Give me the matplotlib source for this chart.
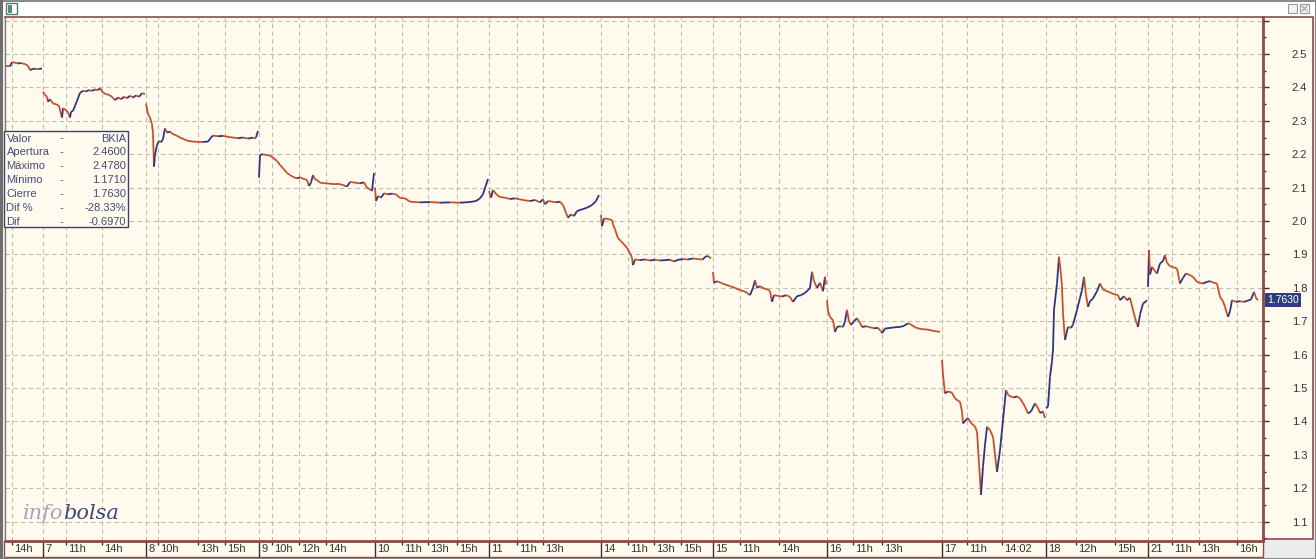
import matplotlib
matplotlib.use('Agg')
import matplotlib.pyplot as plt
import numpy as np
from matplotlib.collections import LineCollection
from matplotlib.patches import Rectangle
import matplotlib.transforms as mtransforms

W, H, DPI = 1316, 559, 100

# ---------------- data ----------------
day_labels = ['6', '7', '8', '9', '10', '11', '14', '15', '16', '17', '18', '21']
day_bars = [38, 103, 113, 116, 114, 112, 112, 114, 115, 104, 102, 115]

hour_day = [0, 1, 1, 2, 2, 2, 3, 3, 3, 4, 4, 4, 5, 5, 6, 6, 6, 7, 7, 8, 8, 9, 9, 10, 10, 11, 11, 11]
hour_off = [7, 23, 59, 12, 52, 79, 13, 40, 67, 27, 53, 82, 28, 54, 27, 53, 80, 27, 66, 26, 55, 25, 60, 30, 69, 24, 51, 89]
hour_lab = ['14h', '11h', '14h', '10h', '13h', '15h', '10h', '12h', '14h', '11h', '13h', '15h', '11h', '13h',
            '11h', '13h', '15h', '11h', '14h', '11h', '13h', '11h', '14:02', '12h', '15h', '11h', '13h', '16h']

d06_t = [0, 5, 7, 10, 13, 16, 20, 23, 25, 27, 30, 34, 37]
d06_p = [2.463, 2.463, 2.476, 2.474, 2.472, 2.473, 2.470, 2.465, 2.452, 2.455, 2.456, 2.455, 2.457]

d07_t = [0, 2, 4, 5, 7, 10, 13, 16, 19, 20, 23, 25, 27, 28, 30, 32, 34, 37, 40, 43,
         46, 49, 52, 55, 57, 60, 63, 66, 69, 72, 75, 78, 81, 84, 87, 90, 93, 96, 99, 102]
d07_p = [2.387, 2.378, 2.372, 2.357, 2.365, 2.352, 2.350, 2.345, 2.310, 2.338, 2.332, 2.325, 2.310, 2.327,
         2.330, 2.345, 2.360, 2.384, 2.390, 2.388, 2.392, 2.390, 2.394, 2.392, 2.398, 2.385, 2.380, 2.378,
         2.372, 2.362, 2.370, 2.365, 2.372, 2.368, 2.375, 2.370, 2.376, 2.372, 2.383, 2.380]

d08_t = [0, 2, 4, 6, 7, 8, 9, 11, 13, 15, 17, 19, 21, 24, 27, 30, 34, 38, 42, 47,
         52, 57, 62, 65, 67, 72, 77, 82, 87, 92, 97, 102, 107, 110, 112]
d08_p = [2.352, 2.320, 2.310, 2.290, 2.262, 2.163, 2.200, 2.227, 2.240, 2.236, 2.245, 2.278, 2.265, 2.268,
         2.260, 2.257, 2.250, 2.245, 2.240, 2.238, 2.237, 2.237, 2.238, 2.250, 2.256, 2.254, 2.255, 2.252,
         2.250, 2.248, 2.250, 2.247, 2.250, 2.250, 2.270]

d09_t = [0, 1, 4, 7, 11, 14, 18, 21, 25, 28, 31, 34, 38, 41, 44, 48, 50, 52, 54, 56,
         58, 61, 66, 71, 76, 81, 84, 88, 91, 96, 101, 105, 108, 111, 113, 115]
d09_p = [2.130, 2.198, 2.200, 2.198, 2.196, 2.190, 2.180, 2.168, 2.155, 2.144, 2.138, 2.132, 2.128, 2.131,
         2.127, 2.123, 2.105, 2.115, 2.138, 2.125, 2.123, 2.115, 2.113, 2.112, 2.110, 2.110, 2.108, 2.103,
         2.117, 2.115, 2.113, 2.116, 2.100, 2.095, 2.090, 2.144]

d10_t = [0, 1, 3, 6, 9, 13, 17, 21, 25, 30, 35, 45, 55, 65, 75, 85, 95, 101, 105, 108, 110, 113]
d10_p = [2.100, 2.060, 2.075, 2.070, 2.083, 2.080, 2.082, 2.080, 2.069, 2.068, 2.058, 2.056, 2.057, 2.055,
         2.056, 2.055, 2.057, 2.060, 2.068, 2.080, 2.099, 2.126]

d11_t = [0, 2, 4, 8, 11, 16, 21, 26, 31, 36, 41, 46, 51, 54, 56, 59, 63, 67, 71, 74,
         77, 79, 82, 85, 88, 93, 98, 103, 107, 110]
d11_p = [2.090, 2.070, 2.093, 2.078, 2.072, 2.070, 2.066, 2.068, 2.065, 2.062, 2.060, 2.063, 2.056, 2.065,
         2.050, 2.060, 2.058, 2.056, 2.058, 2.048, 2.025, 2.010, 2.020, 2.015, 2.030, 2.035, 2.040, 2.048,
         2.060, 2.078]

d14_t = [0, 1, 3, 7, 11, 12, 14, 17, 20, 23, 26, 29, 31, 32, 34, 39, 44, 49, 54, 59,
         64, 69, 73, 77, 82, 87, 92, 97, 102, 104, 107, 110]
d14_p = [2.018, 1.985, 2.008, 2.006, 2.003, 1.990, 1.975, 1.949, 1.940, 1.930, 1.920, 1.904, 1.890, 1.868,
         1.885, 1.883, 1.885, 1.882, 1.884, 1.882, 1.883, 1.884, 1.879, 1.884, 1.886, 1.885, 1.888, 1.886,
         1.885, 1.893, 1.895, 1.888]

d15_t = [0, 1, 4, 8, 12, 17, 22, 27, 31, 34, 37, 40, 42, 44, 47, 51, 55, 57, 59, 61,
         65, 69, 73, 77, 80, 84, 88, 92, 95, 97, 99, 101, 104, 107, 110, 112, 113]
d15_p = [1.848, 1.815, 1.820, 1.815, 1.810, 1.805, 1.800, 1.793, 1.790, 1.785, 1.778, 1.800, 1.823, 1.800,
         1.805, 1.798, 1.795, 1.790, 1.758, 1.778, 1.776, 1.774, 1.778, 1.773, 1.758, 1.775, 1.778, 1.785,
         1.793, 1.800, 1.848, 1.820, 1.800, 1.815, 1.790, 1.833, 1.810]

d16_t = [0, 1, 3, 6, 8, 10, 13, 16, 18, 20, 22, 24, 27, 30, 33, 35, 39, 43, 47, 51,
         54, 55, 58, 63, 68, 73, 77, 81, 84, 88, 92, 96, 101, 105, 109, 113]
d16_p = [1.763, 1.730, 1.713, 1.703, 1.668, 1.683, 1.685, 1.683, 1.700, 1.734, 1.700, 1.689, 1.700, 1.709,
         1.695, 1.683, 1.685, 1.682, 1.679, 1.680, 1.670, 1.664, 1.678, 1.680, 1.682, 1.683, 1.686, 1.694,
         1.690, 1.682, 1.678, 1.676, 1.675, 1.672, 1.670, 1.668]

d17_t = [0, 1, 3, 6, 10, 13, 16, 18, 20, 21, 24, 26, 29, 31, 33, 35, 37, 39, 41, 43,
         45, 48, 51, 53, 55, 58, 61, 64, 66, 69, 72, 75, 78, 81, 83, 86, 89, 93, 96, 98, 101, 103]
d17_p = [1.584, 1.539, 1.484, 1.490, 1.486, 1.469, 1.462, 1.459, 1.430, 1.394, 1.405, 1.410, 1.395, 1.390,
         1.385, 1.369, 1.275, 1.180, 1.265, 1.330, 1.384, 1.374, 1.354, 1.300, 1.249, 1.314, 1.404, 1.494,
         1.480, 1.474, 1.472, 1.475, 1.469, 1.455, 1.444, 1.424, 1.430, 1.454, 1.440, 1.425, 1.430, 1.410]

d18_t = [0, 2, 4, 6, 7, 8, 11, 13, 15, 16, 17, 19, 22, 25, 27, 31, 34, 36, 38, 40,
         42, 44, 47, 51, 54, 57, 61, 65, 69, 72, 74, 78, 81, 84, 87, 90, 92, 94, 97, 100, 101]
d18_p = [1.440, 1.444, 1.534, 1.580, 1.614, 1.734, 1.813, 1.893, 1.840, 1.803, 1.724, 1.644, 1.683, 1.680,
         1.690, 1.734, 1.770, 1.793, 1.833, 1.780, 1.743, 1.760, 1.768, 1.790, 1.813, 1.795, 1.790, 1.785,
         1.780, 1.778, 1.763, 1.775, 1.763, 1.770, 1.734, 1.700, 1.683, 1.720, 1.753, 1.760, 1.763]

d21_t = [0, 1, 2, 4, 7, 9, 12, 15, 17, 19, 22, 25, 29, 32, 35, 38, 42, 45, 49, 52,
         55, 59, 62, 66, 69, 72, 75, 77, 80, 82, 84, 88, 92, 96, 100, 103, 106, 108, 110]
d21_p = [1.803, 1.913, 1.840, 1.863, 1.850, 1.843, 1.873, 1.880, 1.898, 1.875, 1.865, 1.862, 1.858, 1.813,
         1.830, 1.843, 1.838, 1.833, 1.818, 1.815, 1.813, 1.818, 1.820, 1.815, 1.813, 1.773, 1.760, 1.743,
         1.713, 1.730, 1.763, 1.758, 1.760, 1.758, 1.762, 1.765, 1.788, 1.770, 1.763]

info_labels = ['Valor', 'Apertura', 'Máximo', 'Mínimo', 'Cierre', 'Dif %', 'Dif']
info_values = ['BKIA', '2.4600', '2.4780', '1.1710', '1.7630', '-28.33%', '-0.6970']
last_price = 1.7630

y_major = [1.1, 1.2, 1.3, 1.4, 1.5, 1.6, 1.7, 1.8, 1.9, 2.0, 2.1, 2.2, 2.3, 2.4, 2.5, 2.6]
y_minor = [1.05, 1.15, 1.25, 1.35, 1.45, 1.55, 1.65, 1.75, 1.85, 1.95, 2.05, 2.15, 2.25, 2.35, 2.45, 2.55]

# ---------------- style ----------------
CREAM = '#fffaee'
BROWN = '#8a4c44'
UP = '#2e3680'
DOWN = '#c5502c'
GRID = '#c2bdb3'
TXT = '#333333'
plt.rcParams['font.family'] = ['Liberation Sans', 'DejaVu Sans']

fig = plt.figure(figsize=(W / DPI, H / DPI), dpi=DPI, facecolor='#ececec')

# background chrome (pixel coordinates)
bg = fig.add_axes([0, 0, 1, 1], zorder=0)
bg.set_xlim(0, W); bg.set_ylim(H, 0); bg.axis('off')
bg.add_patch(Rectangle((0, 0), W, 17, facecolor='white', edgecolor='none'))
bg.add_patch(Rectangle((0.5, 0.5), W - 1, H - 1, facecolor='none', edgecolor='#8a8a8a', lw=1.5))
bg.add_patch(Rectangle((1263, 17), 50, 522, facecolor=CREAM, edgecolor=BROWN, lw=1.2))
bg.add_patch(Rectangle((4, 541), 1259, 16, facecolor=CREAM, edgecolor=BROWN, lw=1.0))
bg.add_patch(Rectangle((0, 0), 3, H, facecolor='#6e6e6e', edgecolor='none'))
# window icon and buttons
bg.add_patch(Rectangle((6, 3), 11, 11, facecolor='white', edgecolor='#4f7f73', lw=1.0))
bg.add_patch(Rectangle((7.5, 4.5), 4, 8, facecolor='#4f8f80', edgecolor='none'))
bg.add_patch(Rectangle((1288, 4), 9, 9, facecolor='#f4f4f4', edgecolor='#9a9a9a', lw=0.8))
bg.add_patch(Rectangle((1300, 4), 9, 9, facecolor='#f4f4f4', edgecolor='#9a9a9a', lw=0.8))
bg.plot([1302, 1307], [6, 11], color='#9a9a9a', lw=0.8)
bg.plot([1302, 1307], [11, 6], color='#9a9a9a', lw=0.8)

# main axes
ax = fig.add_axes([5 / W, 18 / H, 1258 / W, 524 / H], zorder=1)
ax.set_facecolor(CREAM)

starts = np.concatenate([[0], np.cumsum(day_bars)[:-1]])
total = int(np.sum(day_bars))
ax.set_xlim(0, total)
ax.set_ylim(1.042, 2.611)

# grid
for v in y_major:
    ax.axhline(v, color=GRID, lw=0.8, ls=(0, (4, 3)), zorder=0.5)
hour_x = [starts[d] + o for d, o in zip(hour_day, hour_off)]
for xv in list(starts[1:]) + hour_x:
    ax.axvline(xv, color=GRID, lw=0.8, ls=(0, (4, 3)), zorder=0.5)

# price series, one continuous trace per session
series = [(d06_t, d06_p), (d07_t, d07_p), (d08_t, d08_p), (d09_t, d09_p), (d10_t, d10_p), (d11_t, d11_p),
          (d14_t, d14_p), (d15_t, d15_p), (d16_t, d16_p), (d17_t, d17_p), (d18_t, d18_p), (d21_t, d21_p)]
for k, (t, p) in enumerate(series):
    x = starts[k] + np.asarray(t, float)
    y = np.asarray(p, float)
    pts = np.column_stack([x, y])
    segs = np.stack([pts[:-1], pts[1:]], axis=1)
    cols = [UP if y[i + 1] > y[i] else DOWN for i in range(len(y) - 1)]
    ax.add_collection(LineCollection(segs, colors=cols, linewidths=1.3, zorder=3, capstyle='butt'))

# spines
for s in ['top', 'right', 'bottom']:
    ax.spines[s].set_color(BROWN)
ax.spines['top'].set_linewidth(1.2)
ax.spines['right'].set_linewidth(2.0)
ax.spines['bottom'].set_linewidth(2.0)
ax.spines['left'].set_color('#7a7a7a')
ax.spines['left'].set_linewidth(1.0)

# y axis on the right
ax.yaxis.tick_right()
ax.set_yticks(y_major)
ax.set_yticklabels([f'{v:.1f}' if v < 2.55 else '' for v in y_major])
ax.set_yticks(y_minor, minor=True)
ax.tick_params(axis='y', which='major', direction='out', length=4.3, width=1.0, color='#3a2e2e',
               pad=27.5, labelsize=8, labelcolor=TXT)
ax.tick_params(axis='y', which='minor', direction='out', length=2.2, width=1.0, color='#3a2e2e')
for lab in ax.get_yticklabels():
    lab.set_horizontalalignment('right')

# x axis: day separators as long ticks, hours as short ticks, labels drawn beside them
ax.set_xticks(starts[1:])
ax.set_xticklabels([])
ax.set_xticks(hour_x, minor=True)
ax.tick_params(axis='x', which='major', direction='out', length=11.5, width=1.0, color='#3a2e2e')
ax.tick_params(axis='x', which='minor', direction='out', length=3.0, width=1.0, color='#3a2e2e')

lab_tr = mtransforms.blended_transform_factory(ax.transData, ax.transAxes) + \
    mtransforms.ScaledTranslation(2.5 / DPI, -8.5 / DPI, fig.dpi_scale_trans)
for k in range(1, len(day_labels)):
    ax.text(starts[k], 0, day_labels[k], transform=lab_tr, ha='left', va='center', fontsize=8,
            color=TXT, clip_on=False)
for xv, lb in zip(hour_x, hour_lab):
    ax.text(xv, 0, lb, transform=lab_tr, ha='left', va='center', fontsize=8, color=TXT, clip_on=False)

# last price tag
tag_tr = mtransforms.blended_transform_factory(ax.transAxes, ax.transData) + \
    mtransforms.ScaledTranslation(20 / DPI, 0, fig.dpi_scale_trans)
ax.text(1.0, last_price, f'{last_price:.4f}', transform=tag_tr, ha='center', va='center', fontsize=7.5,
        color='white', clip_on=False, zorder=6,
        bbox=dict(boxstyle='square,pad=0.18', facecolor='#2f3d80', edgecolor='none'))

# overlay for info box and logo (pixel coordinates)
ov = fig.add_axes([0, 0, 1, 1], zorder=5)
ov.set_xlim(0, W); ov.set_ylim(H, 0); ov.axis('off'); ov.patch.set_alpha(0)
ov.add_patch(Rectangle((4, 131), 124, 96, facecolor=CREAM, edgecolor='#3e4270', lw=1.0))
INFO = '#454b78'
for i, (lb, vl) in enumerate(zip(info_labels, info_values)):
    yy = 138.5 + i * 13.9
    ov.text(6.5, yy, lb, fontsize=8, color=INFO, ha='left', va='center')
    ov.text(61, yy, '-', fontsize=8, color=INFO, ha='center', va='center')
    ov.text(126, yy, vl, fontsize=8, color=INFO, ha='right', va='center')

ov.text(63, 519, 'info', fontsize=15, color='#a4a4be', ha='right', va='baseline',
        family='DejaVu Serif', style='italic')
ov.text(63, 519, 'bolsa', fontsize=15, color='#3d4878', ha='left', va='baseline',
        family='DejaVu Serif', style='italic')

fig.savefig('out.png', dpi=DPI, facecolor=fig.get_facecolor())
